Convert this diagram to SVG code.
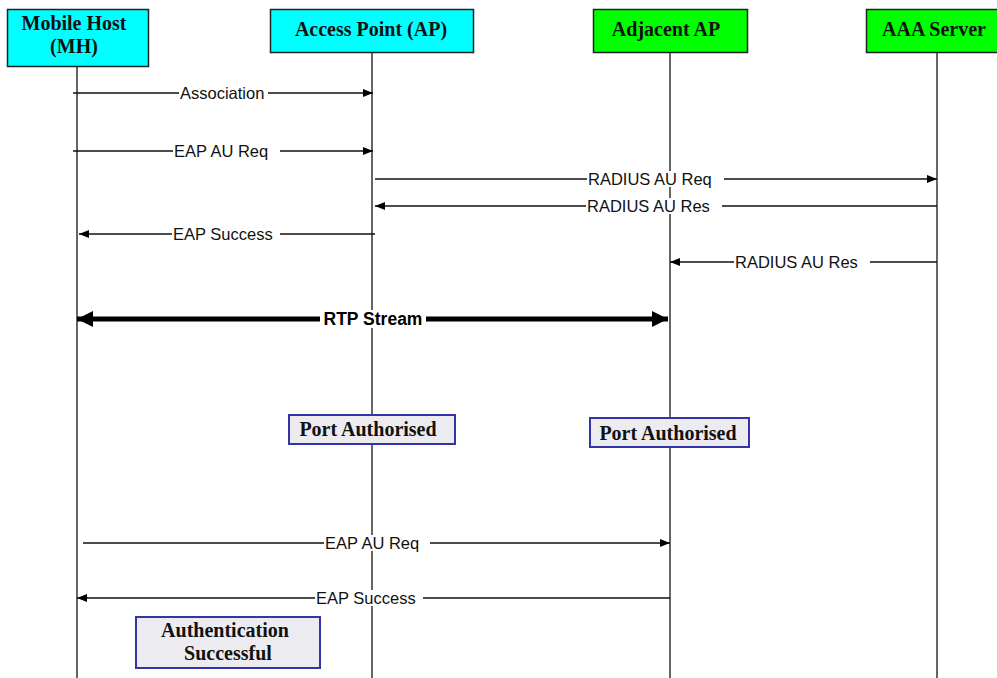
<svg xmlns="http://www.w3.org/2000/svg" width="997" height="678" viewBox="0 0 997 678">
<style>
.actor{stroke:#222;stroke-width:1.5}
.cyan{fill:#00ffff}
.green{fill:#00ff00}
.nt{font-family:"Liberation Serif","Times New Roman",serif;font-weight:bold;font-size:20px;fill:#111;text-anchor:middle}
.life{stroke:#333;stroke-width:1.5;fill:none}
.msg{stroke:#111;stroke-width:1.3;fill:none;marker-end:url(#ah)}
.rtp{stroke:#000;stroke-width:5;fill:none;marker-start:url(#bh);marker-end:url(#bh)}
.lbg{fill:#fff}
.lt{font-family:"Liberation Sans",Arial,sans-serif;font-size:16.5px;fill:#111}
.rt{font-family:"Liberation Sans",Arial,sans-serif;font-size:17.5px;font-weight:bold;fill:#000;text-anchor:middle}
.note{fill:#ececf0;stroke:#3434a8;stroke-width:2}
</style>
<defs>
<marker id="ah" markerUnits="userSpaceOnUse" markerWidth="11" markerHeight="9" refX="10" refY="4" orient="auto-start-reverse" viewBox="0 0 11 9">
<path d="M0,0 L10,4 L0,8 z" fill="#000"/>
</marker>
<marker id="bh" markerUnits="userSpaceOnUse" markerWidth="18" markerHeight="17" refX="16" refY="8" orient="auto-start-reverse" viewBox="0 0 18 17">
<path d="M0,0 L16,8 L0,16 z" fill="#000"/>
</marker>
</defs>

<g id="lifelines">
<line class="life" x1="77" y1="66" x2="77" y2="678"/>
<line class="life" x1="372" y1="52" x2="372" y2="678"/>
<line class="life" x1="670" y1="52" x2="670" y2="678"/>
<line class="life" x1="937" y1="52" x2="937" y2="678"/>
</g>

<g id="mh">
<rect class="actor cyan" x="7.5" y="9.5" width="141" height="57"/>
<text class="nt" x="74" y="30">Mobile Host</text>
<text class="nt" x="74" y="53">(MH)</text>
</g>
<g id="ap">
<rect class="actor cyan" x="270.5" y="9.5" width="203" height="43"/>
<text class="nt" x="371" y="36">Access Point (AP)</text>
</g>
<g id="adjacent-ap">
<rect class="actor green" x="593.5" y="9.5" width="154" height="43"/>
<text class="nt" x="666" y="36">Adjacent AP</text>
</g>
<g id="aaa">
<rect class="actor green" x="866.5" y="9.5" width="142" height="43"/>
<text class="nt" x="934" y="36">AAA Server</text>
</g>

<g id="connectors">
<line class="msg" x1="73" y1="93" x2="373" y2="93"/>
<line class="msg" x1="73" y1="151" x2="373" y2="151"/>
<line class="msg" x1="375" y1="179" x2="937" y2="179"/>
<line class="msg" x1="937" y1="206" x2="375" y2="206"/>
<line class="msg" x1="375" y1="234" x2="79" y2="234"/>
<line class="msg" x1="937" y1="262" x2="670" y2="262"/>
<line class="rtp" x1="77" y1="319" x2="668" y2="319"/>
<line class="msg" x1="83" y1="543" x2="670" y2="543"/>
<line class="msg" x1="670" y1="598" x2="77" y2="598"/>

<rect class="lbg" x="179" y="85" width="89" height="16"/>
<text class="lt" x="180" y="99">Association</text>
<rect class="lbg" x="173" y="143" width="107" height="16"/>
<text class="lt" x="174" y="157">EAP AU Req</text>
<rect class="lbg" x="587" y="171" width="137" height="16"/>
<text class="lt" x="588" y="185">RADIUS AU Req</text>
<rect class="lbg" x="586" y="198" width="136" height="16"/>
<text class="lt" x="587" y="212">RADIUS AU Res</text>
<rect class="lbg" x="172" y="226" width="108" height="16"/>
<text class="lt" x="173" y="240">EAP Success</text>
<rect class="lbg" x="734" y="254" width="136" height="16"/>
<text class="lt" x="735" y="268">RADIUS AU Res</text>
<rect class="lbg" x="320" y="310" width="106" height="18"/>
<text class="rt" x="373" y="325">RTP Stream</text>
<rect class="lbg" x="324" y="535" width="106" height="16"/>
<text class="lt" x="325" y="549">EAP AU Req</text>
<rect class="lbg" x="315" y="590" width="108" height="16"/>
<text class="lt" x="316" y="604">EAP Success</text>
</g>

<g id="port-authorised-ap">
<rect class="note" x="289" y="415" width="166" height="29"/>
<text class="nt" x="368" y="436">Port Authorised</text>
</g>
<g id="port-authorised-adj">
<rect class="note" x="590" y="418" width="159" height="29"/>
<text class="nt" x="668" y="440">Port Authorised</text>
</g>
<g id="auth-success">
<rect class="note" x="136" y="617" width="184" height="51"/>
<text class="nt" x="225" y="637">Authentication</text>
<text class="nt" x="228" y="660">Successful</text>
</g>
</svg>
